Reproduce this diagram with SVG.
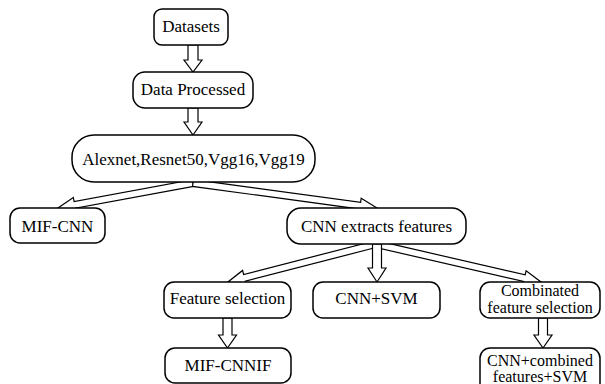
<svg xmlns="http://www.w3.org/2000/svg" width="605" height="384" viewBox="0 0 605 384">
  <style>
    .box { fill: #ffffff; stroke: #000000; stroke-width: 1.5; }
    .arrow { fill: #ffffff; stroke: #000000; stroke-width: 1.2; stroke-linejoin: miter; }
    text { font-family: "Liberation Serif", "Times New Roman", serif; font-size: 17px; fill: #000000; text-anchor: middle; }
    .two { font-size: 16px; }
  </style>
  <rect width="605" height="384" fill="#ffffff"/>

  <!-- hollow block arrows -->
  <g id="connectors">
    <!-- Datasets -> Data Processed -->
    <polygon class="arrow" points="188,45 198,45 198,60 202,60 193,72 184,60 188,60"/>
    <!-- Data Processed -> model list -->
    <polygon class="arrow" points="188,108 198,108 198,122 202,122 193,135 184,122 188,122"/>
    <!-- model list -> MIF-CNN -->
    <path class="arrow" transform="translate(193,183) rotate(169.51)" d="M0,-3.4 H120.3 V-7.6 L137.3,0 L120.3,7.6 V3.4 H0 Z"/>
    <!-- model list -> CNN extracts features -->
    <path class="arrow" transform="translate(193,183) rotate(7.74)" d="M0,-3.4 H168.7 V-7.6 L185.7,0 L168.7,7.6 V3.4 H0 Z"/>
    <!-- CNN extracts features -> Feature selection -->
    <path class="arrow" transform="translate(376,244) rotate(165.6)" d="M0,-3.4 H135.8 V-7.6 L152.8,0 L135.8,7.6 V3.4 H0 Z"/>
    <!-- CNN extracts features -> Combinated feature selection -->
    <path class="arrow" transform="translate(376,244) rotate(12.97)" d="M0,-3.4 H152.3 V-7.6 L169.3,0 L152.3,7.6 V3.4 H0 Z"/>
    <!-- CNN extracts features -> CNN+SVM -->
    <polygon class="arrow" points="372.5,244 381.5,244 381.5,268 386,268 377,282 368,268 372.5,268"/>
    <!-- Feature selection -> MIF-CNNIF -->
    <polygon class="arrow" points="223,318 232,318 232,335 236.5,335 227.5,348 218.5,335 223,335"/>
    <!-- Combinated feature selection -> CNN+combined features+SVM -->
    <polygon class="arrow" points="538.5,318 547.5,318 547.5,335 552,335 543,348 534,335 538.5,335"/>
  </g>

  <g id="datasets">
    <rect class="box" x="154" y="9" width="74" height="36" rx="8"/>
    <text x="191" y="32">Datasets</text>
  </g>
  <g id="data-processed">
    <rect class="box" x="133" y="72" width="120" height="36" rx="12"/>
    <text x="193" y="95">Data Processed</text>
  </g>
  <g id="models">
    <rect class="box" x="72" y="135" width="243" height="47" rx="22"/>
    <text x="193.5" y="165">Alexnet,Resnet50,Vgg16,Vgg19</text>
  </g>
  <g id="mif-cnn">
    <rect class="box" x="10" y="208" width="95" height="35" rx="10"/>
    <text x="57.5" y="232">MIF-CNN</text>
  </g>
  <g id="cnn-extracts">
    <rect class="box" x="287" y="208" width="179" height="36" rx="14"/>
    <text x="376.5" y="232">CNN extracts features</text>
  </g>
  <g id="feature-selection">
    <rect class="box" x="164" y="282" width="127" height="36" rx="10"/>
    <text x="227.5" y="304">Feature selection</text>
  </g>
  <g id="cnn-svm">
    <rect class="box" x="313" y="282" width="127" height="36" rx="10"/>
    <text x="376.5" y="304">CNN+SVM</text>
  </g>
  <g id="combinated">
    <rect class="box" x="480" y="282" width="120" height="36" rx="10"/>
    <text class="two" x="540" y="296">Combinated</text>
    <text class="two" x="540" y="312.5">feature selection</text>
  </g>
  <g id="mif-cnnif">
    <rect class="box" x="165" y="348" width="126" height="35" rx="10"/>
    <text x="228" y="371">MIF-CNNIF</text>
  </g>
  <g id="cnn-combined-svm">
    <rect class="box" x="480" y="348" width="120" height="46" rx="10"/>
    <text class="two" x="540" y="366">CNN+combined</text>
    <text class="two" x="540" y="382">features+SVM</text>
  </g>
</svg>
